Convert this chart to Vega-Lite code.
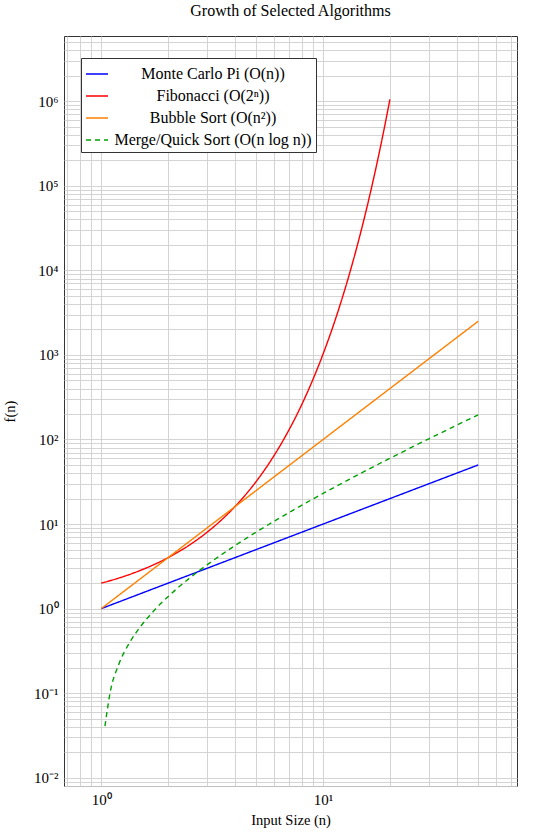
{
  "$schema": "https://vega.github.io/schema/vega-lite/v6.json",
  "autosize": "none",
  "width": 453,
  "height": 750,
  "padding": {"left": 64, "top": 36, "right": 33, "bottom": 48},
  "background": "white",
  "config": {
    "font": "Liberation Serif",
    "view": {"stroke": "#333333", "strokeWidth": 1},
    "axis": {"labelFont": "Liberation Serif", "titleFont": "Liberation Serif", "labelColor": "black", "titleColor": "black", "titleFontWeight": "normal", "labelFontSize": 15, "titleFontSize": 14.5, "gridColor": "#cfcfcf", "gridWidth": 0.9, "domain": false, "ticks": false}
  },
  "title": {"text": "Growth of Selected Algorithms", "font": "Liberation Serif", "fontSize": 16, "fontWeight": "normal", "anchor": "middle", "offset": 17, "color": "black"},
  "data": {"values": [
    {"series": "Monte Carlo Pi", "n": 1, "f": 1},
    {"series": "Monte Carlo Pi", "n": 50, "f": 50},
    {"series": "Fibonacci", "n": 1, "f": 2},
    {"series": "Fibonacci", "n": 1.25, "f": 2.3784},
    {"series": "Fibonacci", "n": 1.5, "f": 2.8284},
    {"series": "Fibonacci", "n": 1.75, "f": 3.3636},
    {"series": "Fibonacci", "n": 2, "f": 4},
    {"series": "Fibonacci", "n": 2.5, "f": 5.6569},
    {"series": "Fibonacci", "n": 3, "f": 8},
    {"series": "Fibonacci", "n": 3.5, "f": 11.314},
    {"series": "Fibonacci", "n": 4, "f": 16},
    {"series": "Fibonacci", "n": 5, "f": 32},
    {"series": "Fibonacci", "n": 6, "f": 64},
    {"series": "Fibonacci", "n": 7, "f": 128},
    {"series": "Fibonacci", "n": 8, "f": 256},
    {"series": "Fibonacci", "n": 9, "f": 512},
    {"series": "Fibonacci", "n": 10, "f": 1024},
    {"series": "Fibonacci", "n": 11, "f": 2048},
    {"series": "Fibonacci", "n": 12, "f": 4096},
    {"series": "Fibonacci", "n": 13, "f": 8192},
    {"series": "Fibonacci", "n": 14, "f": 16384},
    {"series": "Fibonacci", "n": 15, "f": 32768},
    {"series": "Fibonacci", "n": 16, "f": 65536},
    {"series": "Fibonacci", "n": 17, "f": 131072},
    {"series": "Fibonacci", "n": 18, "f": 262144},
    {"series": "Fibonacci", "n": 19, "f": 524288},
    {"series": "Fibonacci", "n": 20, "f": 1048576},
    {"series": "Bubble Sort", "n": 1, "f": 1},
    {"series": "Bubble Sort", "n": 50, "f": 2500},
    {"series": "Merge/Quick Sort", "n": 1.04, "f": 0.04079},
    {"series": "Merge/Quick Sort", "n": 1.1, "f": 0.10484},
    {"series": "Merge/Quick Sort", "n": 1.2, "f": 0.21879},
    {"series": "Merge/Quick Sort", "n": 1.35, "f": 0.40514},
    {"series": "Merge/Quick Sort", "n": 1.5, "f": 0.6082},
    {"series": "Merge/Quick Sort", "n": 1.75, "f": 0.97933},
    {"series": "Merge/Quick Sort", "n": 2, "f": 1.386294},
    {"series": "Merge/Quick Sort", "n": 2.5, "f": 2.29073},
    {"series": "Merge/Quick Sort", "n": 3, "f": 3.29584},
    {"series": "Merge/Quick Sort", "n": 4, "f": 5.54518},
    {"series": "Merge/Quick Sort", "n": 5, "f": 8.04719},
    {"series": "Merge/Quick Sort", "n": 7, "f": 13.6214},
    {"series": "Merge/Quick Sort", "n": 10, "f": 23.0259},
    {"series": "Merge/Quick Sort", "n": 15, "f": 40.6208},
    {"series": "Merge/Quick Sort", "n": 20, "f": 59.9146},
    {"series": "Merge/Quick Sort", "n": 30, "f": 102.036},
    {"series": "Merge/Quick Sort", "n": 40, "f": 147.555},
    {"series": "Merge/Quick Sort", "n": 50, "f": 195.601}
  ]},
  "mark": {"type": "line", "strokeWidth": 1.4, "interpolate": "monotone", "clip": true},
  "encoding": {
    "x": {
      "field": "n", "type": "quantitative",
      "scale": {"type": "log", "domain": [0.68, 74.8], "nice": false},
      "axis": {
        "title": "Input Size (n)",
        "values": [0.7, 0.8, 0.9, 1, 2, 3, 4, 5, 6, 7, 8, 9, 10, 20, 30, 40, 50, 60, 70],
        "labelExpr": "datum.value == 1 ? '10⁰' : datum.value == 10 ? '10¹' : ''",
        "labelPadding": 6,
        "titlePadding": 6
      }
    },
    "y": {
      "field": "f", "type": "quantitative",
      "scale": {"type": "log", "domain": [0.008, 5.9e6], "nice": false},
      "axis": {
        "title": "f(n)",
        "values": [0.008, 0.009, 0.01, 0.02, 0.03, 0.04, 0.05, 0.06, 0.07, 0.08, 0.09, 0.1, 0.2, 0.3, 0.4, 0.5, 0.6, 0.7, 0.8, 0.9, 1, 2, 3, 4, 5, 6, 7, 8, 9, 10, 20, 30, 40, 50, 60, 70, 80, 90, 100, 200, 300, 400, 500, 600, 700, 800, 900, 1000, 2000, 3000, 4000, 5000, 6000, 7000, 8000, 9000, 10000, 20000, 30000, 40000, 50000, 60000, 70000, 80000, 90000, 100000, 200000, 300000, 400000, 500000, 600000, 700000, 800000, 900000, 1000000, 2000000, 3000000, 4000000, 5000000],
        "labelExpr": "datum.value == 0.01 ? '10⁻²' : datum.value == 0.1 ? '10⁻¹' : datum.value == 1 ? '10⁰' : datum.value == 10 ? '10¹' : datum.value == 100 ? '10²' : datum.value == 1000 ? '10³' : datum.value == 10000 ? '10⁴' : datum.value == 100000 ? '10⁵' : datum.value == 1000000 ? '10⁶' : ''",
        "labelPadding": 6,
        "titlePadding": 16
      }
    },
    "color": {
      "field": "series", "type": "nominal",
      "scale": {"domain": ["Monte Carlo Pi", "Fibonacci", "Bubble Sort", "Merge/Quick Sort"], "range": ["#0000ff", "#ff0000", "#ff8000", "#00a000"]},
      "legend": {
        "title": null,
        "orient": "none", "legendX": 17, "legendY": 22,
        "labelExpr": "datum.label == 'Monte Carlo Pi' ? 'Monte Carlo Pi (O(n))' : datum.label == 'Fibonacci' ? 'Fibonacci (O(2ⁿ))' : datum.label == 'Bubble Sort' ? 'Bubble Sort (O(n²))' : 'Merge/Quick Sort (O(n log n))'",
        "labelFont": "Liberation Serif", "labelFontSize": 16, "labelColor": "black", "labelLimit": 400,
        "labelAlign": "center",
        "symbolType": "stroke", "symbolSize": 484, "symbolStrokeWidth": 1.5,
        "strokeColor": "#333333", "fillColor": "white", "padding": 4,
        "rowPadding": 2, "labelOffset": 104
      }
    },
    "strokeDash": {
      "field": "series", "type": "nominal",
      "scale": {"domain": ["Monte Carlo Pi", "Fibonacci", "Bubble Sort", "Merge/Quick Sort"], "range": [[1, 0], [1, 0], [1, 0], [5, 4]]},
      "legend": null
    }
  }
}
